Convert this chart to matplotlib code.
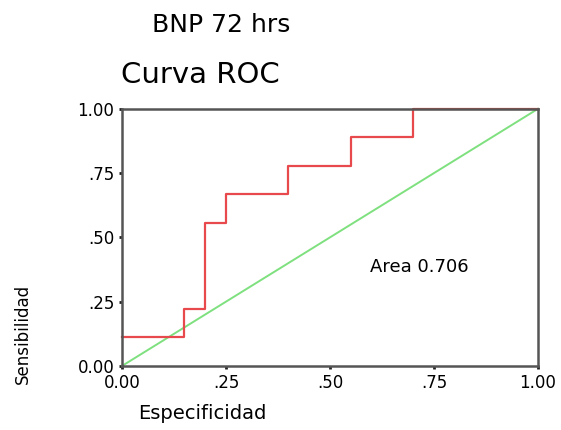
import matplotlib
matplotlib.use("Agg")
import matplotlib.pyplot as plt

plt.rcParams['font.family'] = ['DejaVu Sans']

# ROC step curve (1 - especificidad, sensibilidad)
fpr = [0.0, 0.15, 0.15, 0.20, 0.20, 0.25, 0.25, 0.40, 0.40, 0.55, 0.55, 0.70, 0.70, 1.0]
tpr = [0.111, 0.111, 0.222, 0.222, 0.556, 0.556, 0.667, 0.667, 0.778, 0.778, 0.889, 0.889, 1.0, 1.0]
ref_x = [0.0, 1.0]
ref_y = [0.0, 1.0]
ticks = [0.0, 0.25, 0.5, 0.75, 1.0]
tick_labels = ["0.00", ".25", ".50", ".75", "1.00"]
area = 0.706

fig = plt.figure(figsize=(5.61, 4.30), dpi=100)
ax = fig.add_axes([0.2175, 0.149, 0.7415, 0.598])

ax.plot(ref_x, ref_y, color='#7ee07e', lw=1.4, clip_on=False)
ax.plot(fpr, tpr, color='#e8494c', lw=1.6, clip_on=False)

ax.set_xlim(0, 1)
ax.set_ylim(0, 1)
ax.set_xticks(ticks)
ax.set_xticklabels(tick_labels)
ax.set_yticks(ticks)
ax.set_yticklabels(tick_labels)
ax.tick_params(direction='out', length=2.5, width=2, color='#222222',
               labelsize=12, pad=3)
for s in ax.spines.values():
    s.set_color('#555555')
    s.set_linewidth(1.8)

ax.text(0.596, 0.385, "Area " + str(area), fontsize=13, va='center', ha='left')

fig.text(0.394, 0.942, "BNP 72 hrs", fontsize=18, ha='center', va='center')
fig.text(0.358, 0.825, "Curva ROC", fontsize=21, ha='center', va='center')
fig.text(0.36, 0.038, "Especificidad", fontsize=14, ha='center', va='center')
fig.text(0.04, 0.223, "Sensibilidad", fontsize=12, ha='center', va='center',
         rotation=90)

fig.savefig("out.png", dpi=100)
